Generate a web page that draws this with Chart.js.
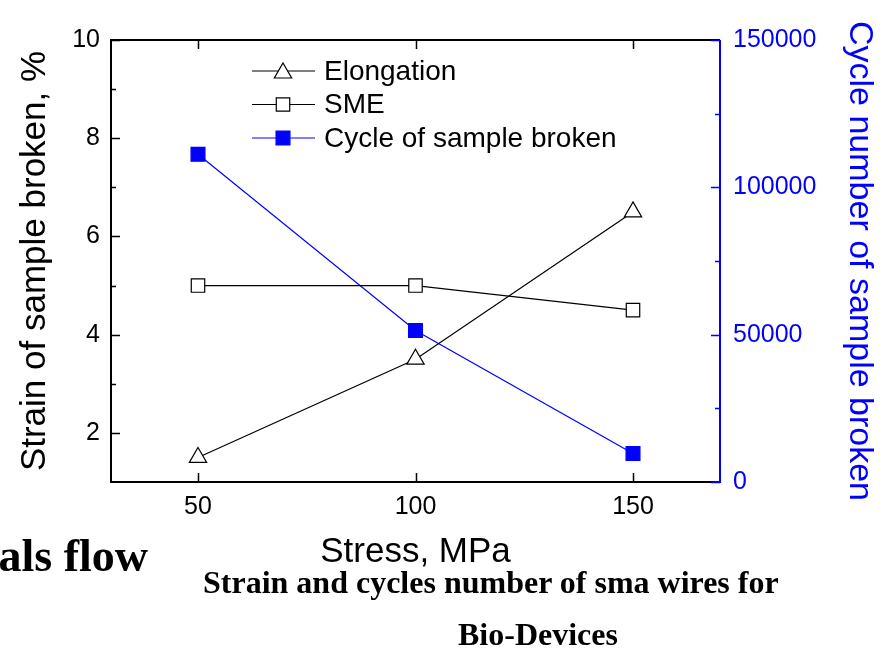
<!DOCTYPE html>
<html>
<head>
<meta charset="utf-8">
<script src="https://cdn.jsdelivr.net/npm/chart.js@4/dist/chart.umd.min.js"></script>
<style>
    html, body { margin: 0; padding: 0; background: #fff; }
    #wrap { position: relative; width: 888px; height: 649px; overflow: hidden; }
    #chart { position: absolute; left: 0; top: 0; }
    .cap {
        position: absolute;
        font-family: 'Liberation Serif', 'Times New Roman', serif;
        font-weight: bold;
        line-height: 1;
        white-space: nowrap;
        color: #000;
    }
</style>
</head>
<body>
<div id="wrap">
    <canvas id="chart" width="888" height="649"></canvas>
    <div class="cap" style="right: 740px; top: 533px; font-size: 46px;">als flow</div>
    <div class="cap" style="left: 203px; top: 566px; font-size: 32px;">Strain and cycles number of sma wires for</div>
    <div class="cap" style="left: 458px; top: 618px; font-size: 32px;">Bio-Devices</div>
</div>
<script>
// stress levels (MPa)
const stress = [50, 100, 150];
// strain, %
const elongation = [1.5, 3.5, 6.5];
const sme = [5, 5, 4.5];
// cycles until the sample broke
const cycles = [111200, 51400, 9700];

// axis ticks
const stressTicks = [50, 100, 150];
const strainTicks = [2, 4, 6, 8, 10];
const strainMinor = [3, 5, 7, 9];
const cycleTicks = [0, 50000, 100000, 150000];
const cycleMinor = [25000, 75000, 125000];

const BLUE = '#0000ff';
const SANS = "'Liberation Sans', Arial, sans-serif";

const toPoints = ys => stress.map((x, i) => ({ x: x, y: ys[i] }));
const fixTicks = list => scale => { scale.ticks = list.map(v => ({ value: v })); };

// closed frame with inward ticks, Origin style
const framePlugin = {
    id: 'frame',
    beforeDatasetsDraw(chart) {
        const { ctx, chartArea: a, scales } = chart;
        const x = scales.x, y = scales.y, y1 = scales.y1;
        ctx.save();
        ctx.lineCap = 'butt';

        ctx.strokeStyle = '#000';
        ctx.lineWidth = 2;
        ctx.beginPath();
        ctx.moveTo(a.right, a.top); ctx.lineTo(a.left, a.top);
        ctx.lineTo(a.left, a.bottom); ctx.lineTo(a.right, a.bottom);
        ctx.stroke();

        ctx.lineWidth = 1.5;
        ctx.beginPath();
        stressTicks.forEach(v => {
            const px = Math.round(x.getPixelForValue(v)) + 0.5;
            ctx.moveTo(px, a.bottom); ctx.lineTo(px, a.bottom - 9);
            ctx.moveTo(px, a.top); ctx.lineTo(px, a.top + 9);
        });
        strainTicks.forEach(v => {
            const py = Math.round(y.getPixelForValue(v)) + 0.5;
            ctx.moveTo(a.left, py); ctx.lineTo(a.left + 9, py);
        });
        strainMinor.forEach(v => {
            const py = Math.round(y.getPixelForValue(v)) + 0.5;
            ctx.moveTo(a.left, py); ctx.lineTo(a.left + 5, py);
        });
        ctx.stroke();

        ctx.strokeStyle = BLUE;
        ctx.lineWidth = 2;
        ctx.beginPath();
        ctx.moveTo(a.right - 6, a.bottom); ctx.lineTo(a.right, a.bottom);
        ctx.lineTo(a.right, a.top);
        ctx.stroke();
        ctx.lineWidth = 1.5;
        ctx.beginPath();
        cycleTicks.forEach(v => {
            const py = Math.round(y1.getPixelForValue(v)) + 0.5;
            ctx.moveTo(a.right, py); ctx.lineTo(a.right - 9, py);
        });
        cycleMinor.forEach(v => {
            const py = Math.round(y1.getPixelForValue(v)) + 0.5;
            ctx.moveTo(a.right, py); ctx.lineTo(a.right - 5, py);
        });
        ctx.stroke();
        ctx.restore();
    }
};

// legend rows: line - marker - line, then the label
const legendPlugin = {
    id: 'lineLegend',
    afterDatasetsDraw(chart) {
        const ctx = chart.ctx;
        ctx.save();
        chart.data.datasets.forEach((ds, i) => {
            const ly = 71 + i * 33.5;
            ctx.strokeStyle = ds.borderColor;
            ctx.lineWidth = 1.2;
            ctx.beginPath();
            ctx.moveTo(252, ly); ctx.lineTo(315, ly);
            ctx.stroke();
            ctx.fillStyle = ds.pointBackgroundColor;
            Chart.helpers.drawPoint(ctx, {
                pointStyle: ds.pointStyle,
                radius: ds.pointRadius,
                borderWidth: ds.pointBorderWidth,
                rotation: 0
            }, 283, ly + (ds.pointStyle === 'triangle' ? 2 : 0));
            ctx.fillStyle = '#000';
            ctx.font = '28px ' + SANS;
            ctx.textBaseline = 'middle';
            ctx.textAlign = 'left';
            ctx.fillText(ds.label, 324, ly + 1);
        });
        ctx.restore();
    }
};

function series(label, ys, color, fill, style, radius, axis) {
    return {
        label: label,
        data: toPoints(ys),
        yAxisID: axis,
        borderColor: color,
        borderWidth: 1.2,
        pointStyle: style,
        pointRadius: radius,
        pointBorderWidth: 1.2,
        pointBorderColor: color,
        pointBackgroundColor: fill,
        tension: 0
    };
}

new Chart(document.getElementById('chart').getContext('2d'), {
    type: 'line',
    data: {
        datasets: [
            series('Elongation', elongation, '#000', '#fff', 'triangle', 10, 'y'),
            series('SME', sme, '#000', '#fff', 'rect', 9.5, 'y'),
            series('Cycle of sample broken', cycles, BLUE, BLUE, 'rect', 9.8, 'y1')
        ]
    },
    options: {
        responsive: false,
        animation: false,
        devicePixelRatio: 1,
        layout: { padding: { top: 40, left: 0, right: 0, bottom: 0 } },
        plugins: { legend: { display: false }, tooltip: { enabled: false } },
        scales: {
            x: {
                type: 'linear',
                min: 30, max: 170,
                afterBuildTicks: fixTicks(stressTicks),
                afterFit: s => { s.height = 167; },
                grid: { display: false, drawTicks: false },
                border: { display: false },
                ticks: { color: '#000', padding: 10, font: { family: SANS, size: 25 }, maxRotation: 0 },
                title: {
                    display: true, text: 'Stress, MPa', color: '#000',
                    font: { family: SANS, size: 35 }, padding: { top: 0, bottom: 76 }
                }
            },
            y: {
                position: 'left',
                min: 1, max: 10,
                afterBuildTicks: fixTicks(strainTicks),
                afterFit: s => { s.width = 111; },
                grid: { display: false, drawTicks: false },
                border: { display: false },
                ticks: { color: '#000', padding: 11, font: { family: SANS, size: 25 } },
                title: {
                    display: true, text: 'Strain of sample broken, %', color: '#000',
                    font: { family: SANS, size: 35 }, padding: { top: 14, bottom: 0 }
                }
            },
            y1: {
                position: 'right',
                min: 0, max: 150000,
                afterBuildTicks: fixTicks(cycleTicks),
                afterFit: s => { s.width = 168; },
                grid: { display: false, drawTicks: false },
                border: { display: false },
                ticks: { color: BLUE, padding: 13, font: { family: SANS, size: 25 }, callback: v => String(v) },
                title: {
                    display: true, text: 'Cycle number of sample broken', color: BLUE,
                    font: { family: SANS, size: 34 }, padding: { top: 8, bottom: 0 }
                }
            }
        }
    },
    plugins: [framePlugin, legendPlugin]
});
</script>
</body>
</html>
